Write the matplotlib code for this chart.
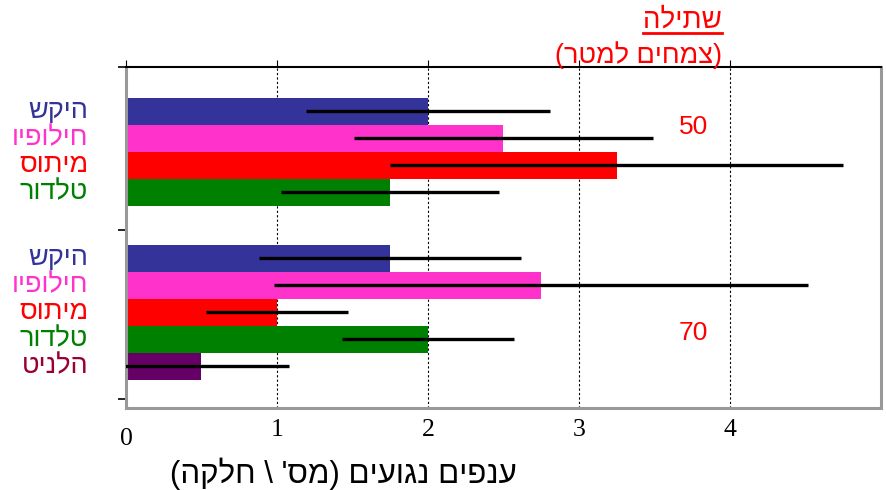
import matplotlib
matplotlib.use("Agg")
import matplotlib.pyplot as plt
from matplotlib.lines import Line2D
from matplotlib.transforms import ScaledTranslation
import numpy as np

# data (Hebrew in logical order; the renderer lays it out right-to-left)
treatments_50 = ["שקיה", "ויפוליח", "סותימ", "רודלט"]
values_50 = [2.0, 2.5, 3.25, 1.75]
errors_50 = [0.81, 0.99, 1.5, 0.72]
treatments_70 = ["שקיה", "ויפוליח", "סותימ", "רודלט", "טינלה"]
values_70 = [1.75, 2.75, 1.0, 2.0, 0.5]
errors_70 = [0.87, 1.77, 0.47, 0.57, 0.58]
group_labels = ["50", "70"]
xticks = [0, 1, 2, 3, 4]

bar_colors = {"שקיה": "#333399", "ויפוליח": "#FF33CC", "סותימ": "#FF0000",
              "רודלט": "#008000", "טינלה": "#660066"}
label_colors = {"שקיה": "#333399", "ויפוליח": "#FF33CC", "סותימ": "#FF0000",
                "רודלט": "#008000", "טינלה": "#990033"}

plt.rcParams['font.family'] = ['Liberation Sans', 'DejaVu Sans']

fig = plt.figure(figsize=(8.87, 4.9), dpi=100)
ax = fig.add_axes([0.142, 0.167, 0.851, 0.696])

pos_50 = np.arange(len(values_50))
pos_70 = np.arange(len(values_70)) + 5.44

for pos, names, vals, errs in [(pos_50, treatments_50, values_50, errors_50),
                               (pos_70, treatments_70, values_70, errors_70)]:
    ax.barh(pos, vals, height=1.0, color=[bar_colors[n] for n in names], zorder=2)
    ax.errorbar(vals, pos, xerr=errs, fmt='none', ecolor='black',
                elinewidth=2.4, capsize=0, zorder=3)
    for p, n in zip(pos, names):
        ax.text(-0.25, p, n, color=label_colors[n], fontsize=19.5,
                ha='right', va='center')

ax.set_xlim(0, 5)
ax.set_ylim(11.0, -1.63)

# group labels
ax.text(3.76, 0.6, group_labels[0], color='red', fontsize=19, ha='center', va='center')
ax.text(3.76, 8.2, group_labels[1], color='red', fontsize=19, ha='center', va='center')

# grid
ax.set_xticks(xticks)
ax.set_xticklabels([str(t) for t in xticks], family='Liberation Serif', fontsize=18.5)
ax.tick_params(axis='x', bottom=False, top=True, direction='out', length=5, pad=3)
lab0 = ax.get_xticklabels()[0]
lab0.set_transform(lab0.get_transform() + ScaledTranslation(0, -6 / 72, fig.dpi_scale_trans))
for t in xticks[1:]:
    ax.axvline(t, color='black', linestyle=(0, (2, 2)), linewidth=0.8, zorder=1)

ax.set_yticks([-1.63, 4.41, 10.67])
ax.set_yticklabels([])
ax.tick_params(axis='y', direction='out', length=6, width=1.2)

for s in ['left', 'right', 'bottom']:
    ax.spines[s].set_color('#999999')
    ax.spines[s].set_linewidth(2.2)
ax.spines['top'].set_color('black')
ax.spines['top'].set_linewidth(1.5)

fig.text(0.387, 0.034, "(הקלח \\ 'סמ) םיעוגנ םיפנע", fontsize=22.5, ha='center', va='center')

# title with underline
t1 = fig.text(0.814, 0.958, "הליתש", color='red', fontsize=20, ha='right', va='center')
fig.text(0.814, 0.888, "(רטמל םיחמצ)", color='red', fontsize=19.5, ha='right', va='center')
fig.canvas.draw()
bb = t1.get_window_extent().transformed(fig.transFigure.inverted())
fig.add_artist(Line2D([bb.x0, bb.x1], [0.933, 0.933],
                      color='red', linewidth=2, transform=fig.transFigure))

fig.savefig("out.png", dpi=100)
